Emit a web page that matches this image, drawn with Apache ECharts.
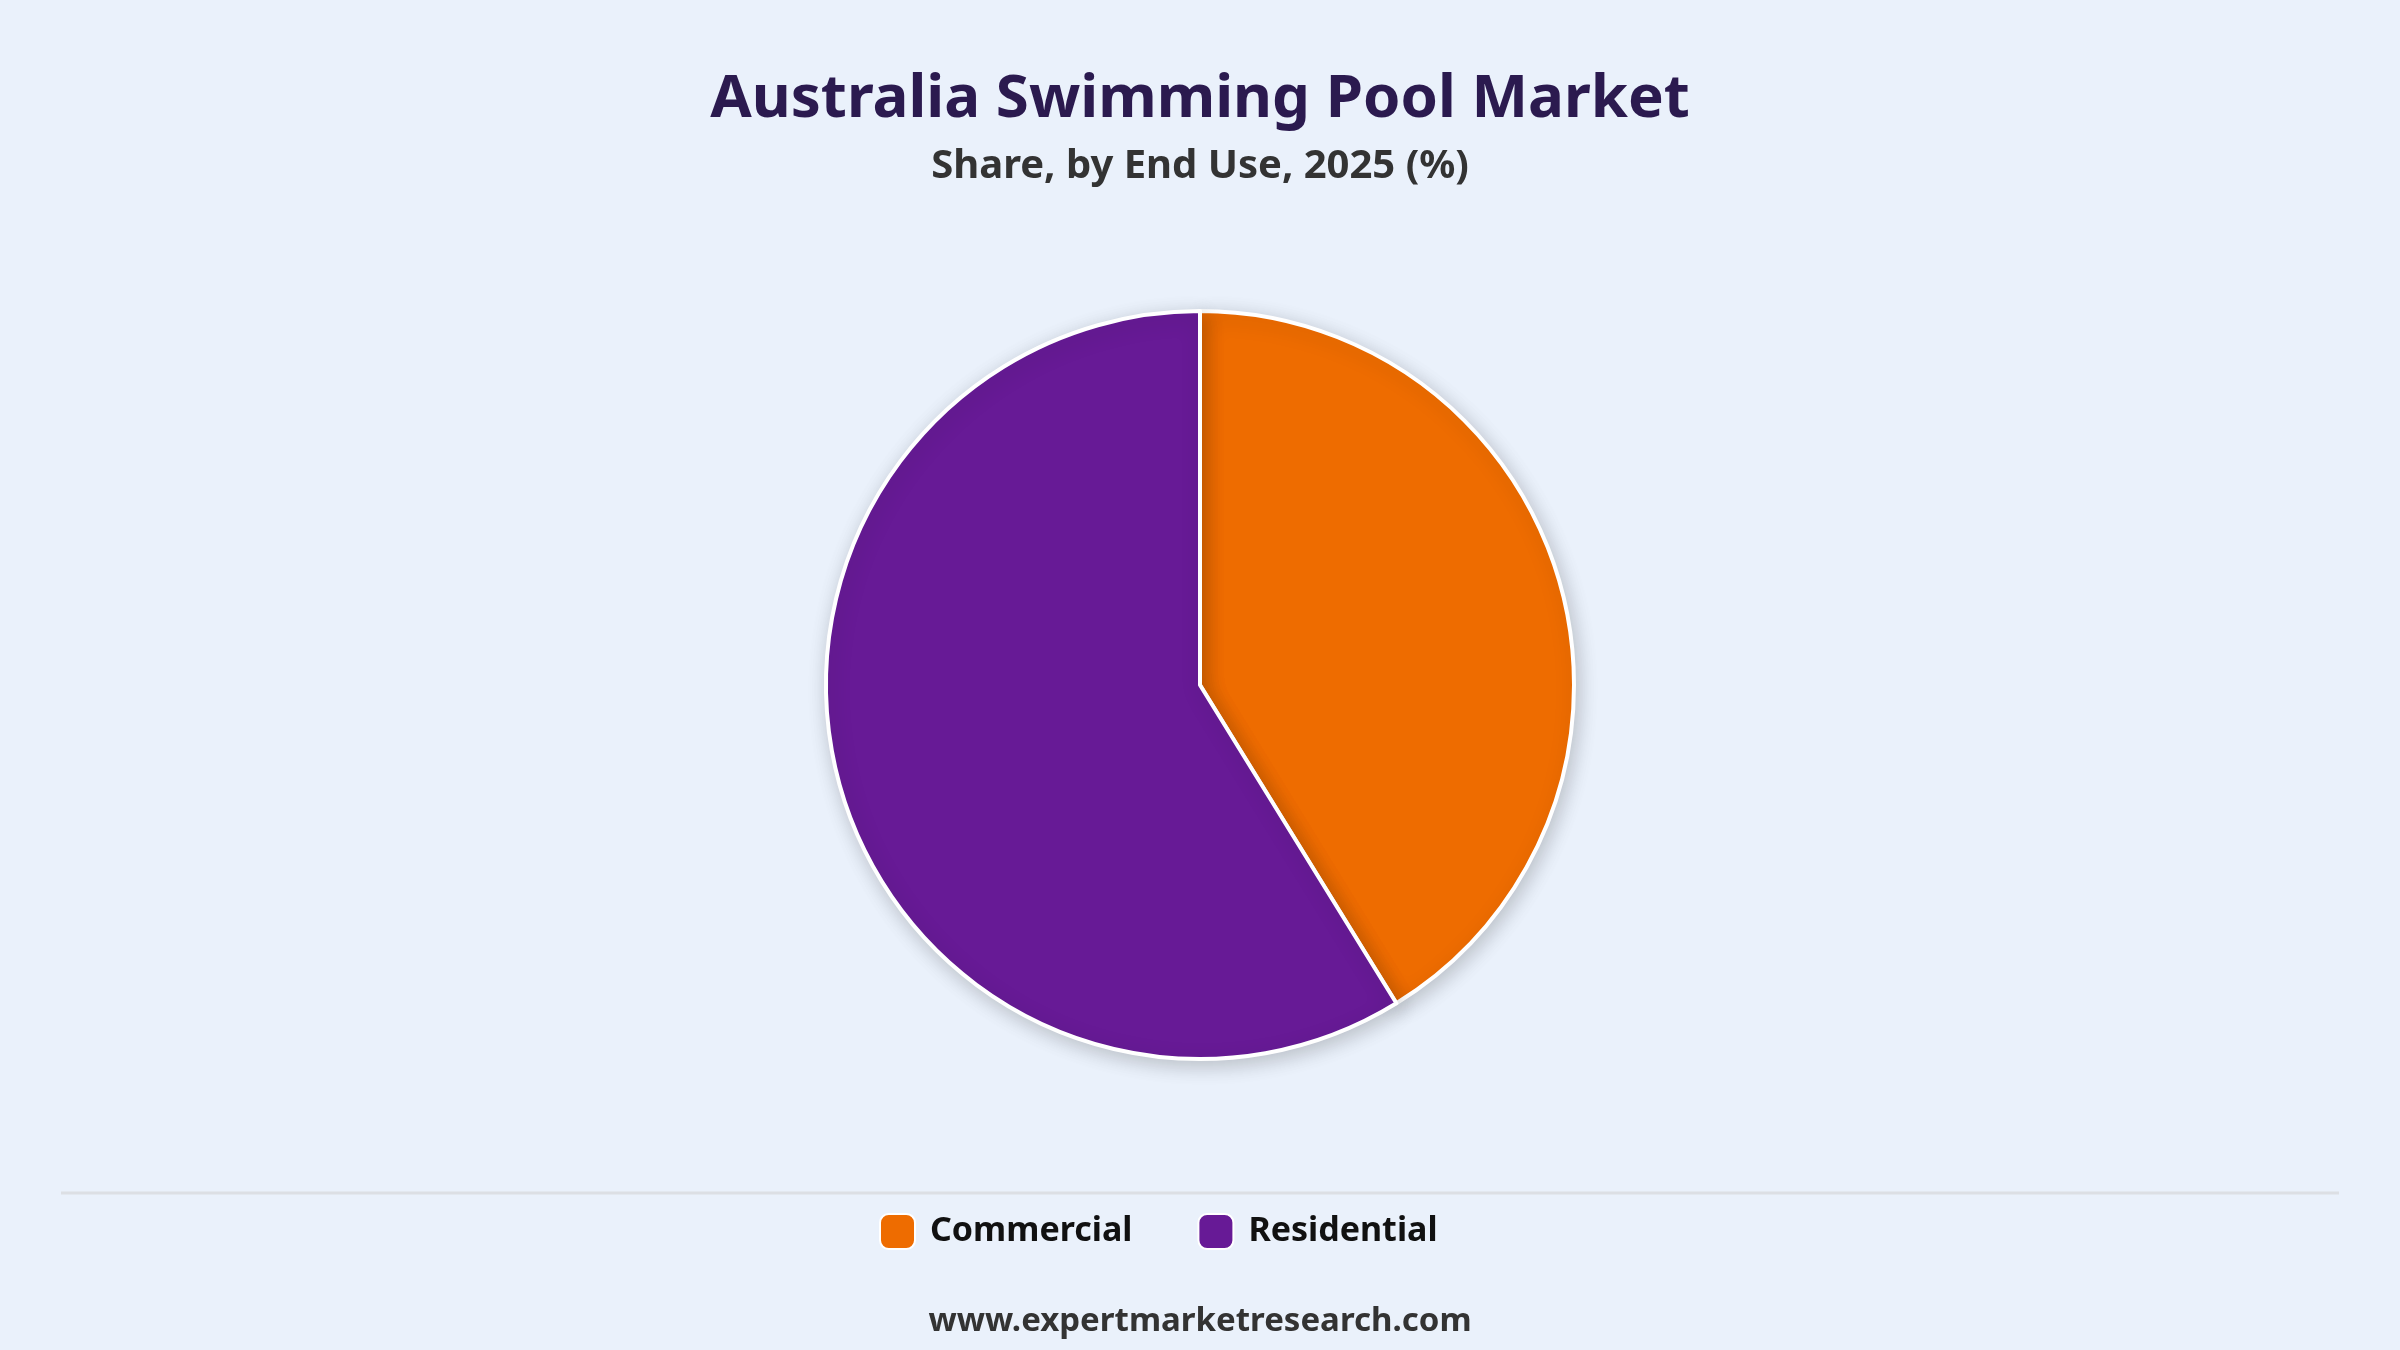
<!DOCTYPE html>
<html>
<head>
<meta charset="utf-8">
<script src="https://cdn.jsdelivr.net/npm/echarts@6/dist/echarts.min.js"></script>
<style>
html,body{margin:0;padding:0;background:#eaf1fb;}
#chart{width:2400px;height:1350px;}
</style>
</head>
<body>
<div id="chart"></div>
<script>
const categories = ['Commercial', 'Residential'];
const shares = [41.2, 58.8];
const colors = ['#ee6c00', '#671a96'];
const titleText = 'Australia Swimming Pool Market';
const subtitleText = 'Share, by End Use, 2025 (%)';
const footerText = 'www.expertmarketresearch.com';

const chart = echarts.init(document.getElementById('chart'));
const font = '"Noto Sans", "Open Sans", sans-serif';
chart.setOption({
  backgroundColor: '#eaf1fb',
  title: [
    {text: titleText, left: 'center', top: 65,
     textStyle: {fontFamily: font, fontWeight: 'bold', fontSize: 60, color: '#2b1a4f'}},
    {text: subtitleText, left: 'center', top: 142,
     textStyle: {fontFamily: font, fontWeight: 'bold', fontSize: 40, color: '#333333'}},
    {text: footerText, left: 'center', top: 1300,
     textStyle: {fontFamily: font, fontWeight: 'bold', fontSize: 33, color: '#333333'}}
  ],
  legend: {
    data: categories, left: 874, top: 1208,
    icon: 'roundRect', itemWidth: 35, itemHeight: 35, itemGap: 65,
    textStyle: {fontFamily: font, fontWeight: 'bold', fontSize: 34, color: '#111111', padding: [0, 0, 0, 10]}
  },
  graphic: [{
    type: 'line', shape: {x1: 61, y1: 1193, x2: 2339, y2: 1193},
    style: {stroke: '#dcdfe4', lineWidth: 3}
  }],
  series: [{
    type: 'pie', center: [1200, 685], radius: [0, 374],
    startAngle: 90, clockwise: true,
    label: {show: false}, labelLine: {show: false},
    itemStyle: {borderColor: '#ffffff', borderWidth: 4,
      shadowBlur: 20, shadowColor: 'rgba(0,0,0,0.2)', shadowOffsetX: 3, shadowOffsetY: 5},
    emphasis: {scale: false},
    data: categories.map((c, i) => ({name: c, value: shares[i], itemStyle: {color: colors[i]}}))
  }],
  color: colors
});
</script>
</body>
</html>
